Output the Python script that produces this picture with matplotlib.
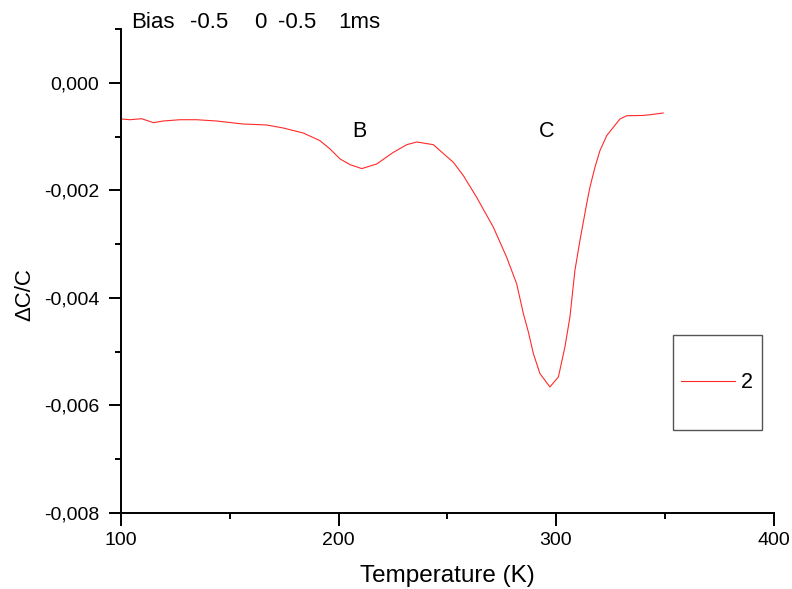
import matplotlib
matplotlib.use("Agg")
import matplotlib.pyplot as plt
from matplotlib.patches import Rectangle
from matplotlib.ticker import MultipleLocator, FuncFormatter

temperature = [100.3, 104.1, 109.5, 114.9, 119.4, 127.1, 134.8, 144.0, 156.2, 167.0,
               174.6, 183.8, 191.5, 196.1, 200.7, 205.3, 210.7, 217.6, 225.2, 231.4,
               236.0, 243.6, 246.7, 252.8, 257.4, 263.5, 271.2, 277.3, 281.9, 285.0,
               287.3, 289.6, 292.6, 297.2, 301.1, 304.1, 306.4, 308.7, 311.0, 314.1,
               315.6, 317.9, 320.2, 323.3, 326.3, 329.4, 332.5, 340.1, 343.2, 349.3]
delta_c = [-0.000674, -0.000687, -0.000668, -0.000742, -0.000711, -0.000687, -0.000687,
           -0.000711, -0.000767, -0.000785, -0.000841, -0.000934, -0.001077, -0.001231,
           -0.001416, -0.001522, -0.001596, -0.001509, -0.001294, -0.001151, -0.001101,
           -0.001151, -0.001262, -0.001479, -0.001726, -0.002129, -0.002686, -0.003243,
           -0.003736, -0.004293, -0.004635, -0.005036, -0.005407, -0.005656, -0.005470,
           -0.004913, -0.004356, -0.003489, -0.002933, -0.002251, -0.001943, -0.001572,
           -0.001262, -0.000984, -0.000830, -0.000674, -0.000613, -0.000607, -0.000594,
           -0.000562]
series_label = "2"
title_tokens = ["Bias", "-0.5", "0", "-0.5", "1ms"]
title_x_px = [131, 190, 254, 278, 338]
peak_labels = ["B", "C"]
peak_x = [209.4, 295.7]
peak_y = [-0.00100, -0.00100]

plt.rcParams['font.family'] = ['Liberation Sans', 'DejaVu Sans']

W, H = 792, 589
fig = plt.figure(figsize=(W / 100, H / 100), dpi=100)
L, R, T, B = 121, 773.5, 29, 513
ax = fig.add_axes([L / W, 1 - B / H, (R - L) / W, (B - T) / H])
aw, ah = R - L, B - T

line, = ax.plot(temperature, delta_c, color='#ff2a2a', lw=0.8, label=series_label)

ax.set_xlim(100, 400)
ax.set_ylim(-0.008, 0.001)
ax.xaxis.set_major_locator(MultipleLocator(100))
ax.xaxis.set_minor_locator(MultipleLocator(50))
ax.yaxis.set_major_locator(MultipleLocator(0.002))
ax.yaxis.set_minor_locator(MultipleLocator(0.001))
ax.yaxis.set_major_formatter(FuncFormatter(
    lambda v, p: ("%.3f" % v).replace('.', ',').replace('-0,000', '0,000')))
for s in ['top', 'right']:
    ax.spines[s].set_visible(False)
for s in ['left', 'bottom']:
    ax.spines[s].set_linewidth(1.4)
ax.tick_params(which='major', direction='out', length=9, width=1.4, labelsize=14)
ax.tick_params(which='minor', direction='out', length=4.5, width=1.4)
ax.tick_params(axis='x', which='major', pad=5)
ax.tick_params(axis='y', which='major', pad=6.5)

ax.set_xlabel("Temperature (K)", fontsize=17.5, va='center')
ax.xaxis.set_label_coords(0.5, (B - 576) / ah)
ax.set_ylabel("\u0394C/C", fontsize=16, va='center')
ax.yaxis.set_label_coords((25 - L) / aw, (B - 295) / ah)

for lab, x, y in zip(peak_labels, peak_x, peak_y):
    ax.text(x, y, lab, fontsize=15.5, ha='center', va='baseline')

for tok, xp in zip(title_tokens, title_x_px):
    fig.text(xp / W, 1 - 28.5 / H, tok, fontsize=16, ha='left', va='baseline')

# legend box
bx0, bx1 = (673 - L) / aw, (762 - L) / aw
by0, by1 = (B - 430) / ah, (B - 335) / ah
ax.add_patch(Rectangle((bx0, by0), bx1 - bx0, by1 - by0, transform=ax.transAxes,
                       fill=False, edgecolor='#555555', lw=1.0, clip_on=False))
leg = ax.legend(handles=[line], loc='center left',
                bbox_to_anchor=((681 - L) / aw, (B - 383) / ah),
                frameon=False, fontsize=15.5, handlelength=2.5, handletextpad=0.3,
                borderpad=0, borderaxespad=0)

fig.savefig("out.png", dpi=100)
